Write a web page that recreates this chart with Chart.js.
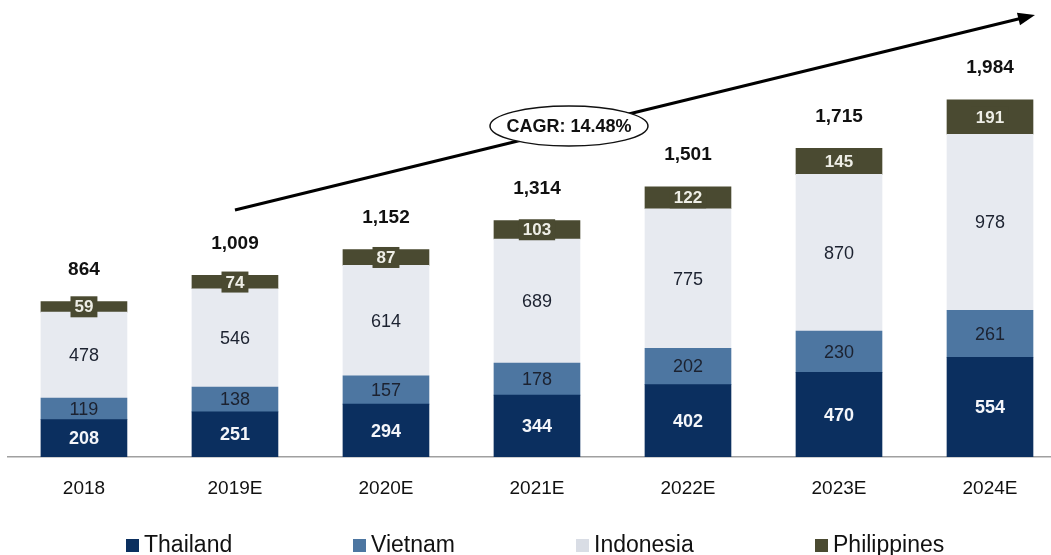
<!DOCTYPE html>
<html>
<head>
<meta charset="utf-8">
<title>Market size by country</title>
<script src="https://cdn.jsdelivr.net/npm/chart.js@4.4.1/dist/chart.umd.min.js"></script>
<style>
  html, body { margin: 0; padding: 0; background: #fff; overflow: hidden; }
  #wrap { position: relative; width: 1051px; height: 555px; overflow: hidden; }
  #legend { position: absolute; left: 0; top: 533px; width: 1051px; height: 30px;
            font: 23px "Liberation Sans", Arial, sans-serif; color: #111; }
  #legend .item { position: absolute; top: 0; line-height: 23px; white-space: nowrap; }
  #legend .sw { display: inline-block; width: 13px; height: 13px; margin-right: 5px; vertical-align: 0; }
</style>
</head>
<body>
<div id="wrap">
  <canvas id="chart" width="1051" height="555"></canvas>
  <div id="legend"></div>
</div>
<script>
// categories and stacked values (bottom to top)
const years = ['2018', '2019E', '2020E', '2021E', '2022E', '2023E', '2024E'];
const thailand    = [208, 251, 294, 344, 402, 470, 554];
const vietnam     = [119, 138, 157, 178, 202, 230, 261];
const indonesia   = [478, 546, 614, 689, 775, 870, 978];
const philippines = [59, 74, 87, 103, 122, 145, 191];
const totals      = [864, 1009, 1152, 1314, 1501, 1715, 1984];
const cagrText = 'CAGR: 14.48%';

const seriesNames  = ['Thailand', 'Vietnam', 'Indonesia', 'Philippines'];
const seriesColors = ['#0b2f5f', '#4d76a1', '#e7eaf0', '#4a4a31'];
const legendLeft   = [126, 353, 576, 815];

const FONT = '"Liberation Sans", Arial, sans-serif';

function toPoints(arr) {
  return arr.map((v, i) => ({ x: i, y: v }));
}

const datasets = [thailand, vietnam, indonesia, philippines].map((arr, k) => ({
  label: seriesNames[k],
  data: toPoints(arr),
  backgroundColor: seriesColors[k],
  borderWidth: 0,
  barThickness: 86
}));

// value labels inside segments + totals above each stack
const segmentLabels = {
  id: 'segmentLabels',
  afterDatasetsDraw(chart) {
    const ctx = chart.ctx;
    ctx.save();
    ctx.textAlign = 'center';
    ctx.textBaseline = 'middle';
    chart.data.datasets.forEach((ds, k) => {
      const meta = chart.getDatasetMeta(k);
      meta.data.forEach((bar, i) => {
        const v = ds.data[i].y;
        const cy = (bar.y + bar.base) / 2;
        const txt = String(v);
        if (k === 0) {
          ctx.font = 'bold 18px ' + FONT;
          ctx.fillStyle = '#f4f6fa';
        } else if (k === 3) {
          ctx.font = 'bold 17px ' + FONT;
          const w = ctx.measureText(txt).width + 8;
          ctx.fillStyle = seriesColors[3];
          ctx.fillRect(bar.x - w / 2, cy - 10.5, w, 21);
          ctx.fillStyle = '#eeeee6';
        } else {
          ctx.font = '18px ' + FONT;
          ctx.fillStyle = '#1c2230';
        }
        ctx.fillText(txt, bar.x, cy + 1);
      });
    });
    // totals
    const yScale = chart.scales.y;
    const topMeta = chart.getDatasetMeta(3);
    ctx.font = 'bold 19px ' + FONT;
    ctx.fillStyle = '#111';
    topMeta.data.forEach((bar, i) => {
      const y = yScale.getPixelForValue(totals[i]);
      ctx.fillText(totals[i].toLocaleString('en-US'), bar.x, y - 32);
    });
    ctx.restore();
  }
};

// growth arrow with CAGR ellipse
const cagrArrow = {
  id: 'cagrArrow',
  afterDraw(chart) {
    const { ctx, scales: { x, y } } = chart;
    const x0 = x.getPixelForValue(1), y0 = y.getPixelForValue(1372);
    const x1 = x.getPixelForValue(6.298), y1 = y.getPixelForValue(2456);
    const ang = Math.atan2(y1 - y0, x1 - x0);
    ctx.save();
    ctx.strokeStyle = '#000';
    ctx.fillStyle = '#000';
    ctx.lineWidth = 3;
    ctx.beginPath();
    ctx.moveTo(x0, y0);
    ctx.lineTo(x1 - 12 * Math.cos(ang), y1 - 12 * Math.sin(ang));
    ctx.stroke();
    ctx.beginPath();
    ctx.moveTo(x1, y1);
    ctx.lineTo(x1 - 17 * Math.cos(ang) + 6.5 * Math.sin(ang), y1 - 17 * Math.sin(ang) - 6.5 * Math.cos(ang));
    ctx.lineTo(x1 - 17 * Math.cos(ang) - 6.5 * Math.sin(ang), y1 - 17 * Math.sin(ang) + 6.5 * Math.cos(ang));
    ctx.closePath();
    ctx.fill();

    const ex = x.getPixelForValue(3.212), ey = y.getPixelForValue(1839);
    ctx.beginPath();
    ctx.ellipse(ex, ey, 79, 20, 0, 0, Math.PI * 2);
    ctx.fillStyle = '#fff';
    ctx.fill();
    ctx.lineWidth = 1.5;
    ctx.strokeStyle = '#111';
    ctx.stroke();
    ctx.fillStyle = '#111';
    ctx.font = 'bold 18px ' + FONT;
    ctx.textAlign = 'center';
    ctx.textBaseline = 'middle';
    ctx.fillText(cagrText, ex, ey + 1);
    ctx.restore();
  }
};

new Chart(document.getElementById('chart'), {
  type: 'bar',
  data: { datasets },
  options: {
    responsive: false,
    animation: false,
    layout: { padding: { left: 8, right: 0, top: 0, bottom: 0 } },
    plugins: { legend: { display: false }, tooltip: { enabled: false } },
    scales: {
      x: {
        type: 'linear',
        stacked: true,
        offset: false,
        min: -0.503,
        max: 6.404,
        grid: { display: false, drawTicks: false },
        border: { display: true, color: '#a0a0a0', width: 1.5 },
        ticks: {
          stepSize: 1,
          includeBounds: false,
          autoSkip: false,
          maxRotation: 0,
          padding: 20,
          color: '#111',
          font: { family: FONT, size: 19 },
          callback: v => (Number.isInteger(v) && years[v]) ? years[v] : ''
        },
        afterFit: s => { s.height = 98; }
      },
      y: {
        stacked: true,
        display: false,
        min: 0,
        max: 2539
      }
    }
  },
  plugins: [segmentLabels, cagrArrow]
});

// legend row
const legend = document.getElementById('legend');
seriesNames.forEach((name, k) => {
  const it = document.createElement('div');
  it.className = 'item';
  it.style.left = legendLeft[k] + 'px';
  const sw = k === 2 ? '#d9dde5' : seriesColors[k];
  it.innerHTML = `<span class="sw" style="background:${sw}"></span>${name}`;
  legend.appendChild(it);
});
</script>
</body>
</html>
